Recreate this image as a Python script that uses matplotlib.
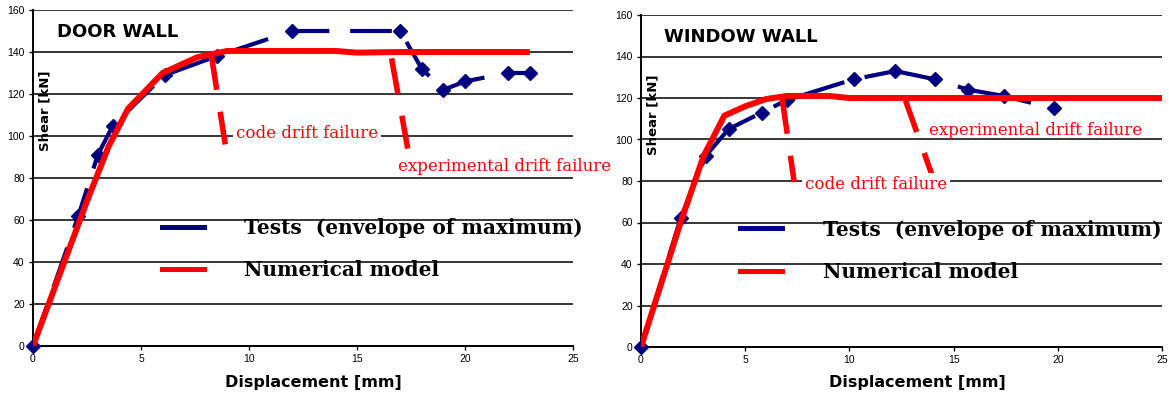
import matplotlib
matplotlib.use("Agg")
import matplotlib.pyplot as plt
from matplotlib.lines import Line2D

# door wall: tests (envelope of maximum) and numerical model, shear [kN] vs displacement [mm]
door_test_x = [0, 2.1, 3.0, 3.7, 6.1, 8.5, 12.0, 17.0, 18.0, 19.0, 20.0, 22.0, 23.0]
door_test_y = [0, 62, 91, 105, 129, 138, 150, 150, 132, 122, 126, 130, 130]
door_model_x = [0, 2.5, 3.5, 4.4, 6.0, 7.6, 9.0, 14.0, 15.0, 17.0, 23.0]
door_model_y = [0, 69, 95, 113, 130, 137.5, 140.5, 140.5, 139.7, 140, 140]
door_code_drift_x = [8.25, 8.9]
door_code_drift_y = [139, 96]
door_exp_drift_x = [16.6, 17.35]
door_exp_drift_y = [137, 94]

# window wall
window_test_x = [0, 1.9, 3.1, 4.2, 5.8, 7.0, 10.2, 12.2, 14.1, 15.7, 17.4, 19.8]
window_test_y = [0, 62, 92, 105, 113, 119, 129, 133, 129, 124, 121, 115]
window_model_x = [0, 1.9, 3.0, 4.0, 5.0, 6.0, 7.0, 9.0, 10.0, 26.0]
window_model_y = [0, 60, 92, 111.5, 116, 119.5, 121, 121, 120, 120]
window_code_drift_x = [6.77, 7.35]
window_code_drift_y = [120, 79.5]
window_exp_drift_x = [12.65, 13.96]
window_exp_drift_y = [120, 83]

x_ticks = [0, 5, 10, 15, 20, 25]
y_ticks = [0, 20, 40, 60, 80, 100, 120, 140, 160]
series_labels = ["Tests  (envelope of maximum)", "Numerical model"]

NAVY = "#000080"
RED = "#ff0000"
SERIF = "DejaVu Serif"
SANS = "DejaVu Sans"


def wall_chart(ax, title, tx, ty, mx, my, cx, cy, ex, ey, code_xy, exp_xy,
               leg_xy, test_dash, xlab_x):
    ax.set_xlim(0, 25)
    ax.set_ylim(0, 160)
    ax.set_xticks(x_ticks)
    ax.set_yticks(y_ticks)
    ax.grid(axis="y", color="black", lw=1.1, zorder=0)
    for s in ["top", "right"]:
        ax.spines[s].set_visible(False)
    for s in ["left", "bottom"]:
        ax.spines[s].set_linewidth(1.4)
    ax.tick_params(labelsize=7.5, length=3, width=1, pad=3)
    for lab in ax.get_xticklabels() + ax.get_yticklabels():
        lab.set_fontfamily("Liberation Sans")

    ax.plot(tx, ty, color=NAVY, lw=3, marker="D", ms=7, dashes=test_dash,
            zorder=3, clip_on=False)
    ax.plot(mx, my, color=RED, lw=4.3, solid_capstyle="butt", zorder=4)

    ax.plot(cx, cy, color=RED, lw=4, dashes=(6.5, 4), zorder=5)
    ax.plot(ex, ey, color=RED, lw=4, dashes=(6.5, 4), zorder=5)
    ax.text(code_xy[0], code_xy[1], "code drift failure", color=RED,
            family=SERIF, size=12, va="center", zorder=6,
            bbox=dict(facecolor="white", edgecolor="none", pad=2))
    ax.text(exp_xy[0], exp_xy[1], "experimental drift failure", color=RED,
            family=SERIF, size=12, va="center", zorder=6, clip_on=False)

    ax.text(0.044, 0.935, title, transform=ax.transAxes, family=SANS,
            weight="bold", size=13, va="center")
    ax.set_ylabel("Shear [kN]", family=SANS, weight="bold", size=9.5)
    ax.yaxis.set_label_coords(0.035, 0.70)
    ax.set_xlabel("Displacement [mm]", family=SANS, weight="bold", size=11.5)
    ax.xaxis.set_label_coords(xlab_x, -0.085)

    handles = [Line2D([], [], color=NAVY, lw=3.6),
               Line2D([], [], color=RED, lw=3.6)]
    ax.legend(handles=handles, labels=series_labels, loc="upper left",
              bbox_to_anchor=leg_xy, frameon=False,
              prop=dict(family=SERIF, weight="bold", size=14.5),
              handlelength=2.1, handletextpad=2.0, labelspacing=1.1,
              borderpad=0, borderaxespad=0)


fig = plt.figure(figsize=(11.69, 3.94), dpi=100)
ax1 = fig.add_axes([33 / 1169, 1 - 346 / 394, 540 / 1169, 336 / 394])
ax2 = fig.add_axes([641 / 1169, 1 - 347 / 394, 521 / 1169, 332 / 394])

wall_chart(ax1, "DOOR WALL", door_test_x, door_test_y, door_model_x, door_model_y,
           door_code_drift_x, door_code_drift_y, door_exp_drift_x, door_exp_drift_y,
           (9.4, 101.3), (16.9, 85.4), (0.238, 0.381), (10, 5), 0.52)
wall_chart(ax2, "WINDOW WALL", window_test_x, window_test_y, window_model_x, window_model_y,
           window_code_drift_x, window_code_drift_y, window_exp_drift_x, window_exp_drift_y,
           (7.85, 78.5), (13.8, 104.5), (0.19, 0.384), (18, 5), 0.531)

fig.savefig("out.png", dpi=100)
